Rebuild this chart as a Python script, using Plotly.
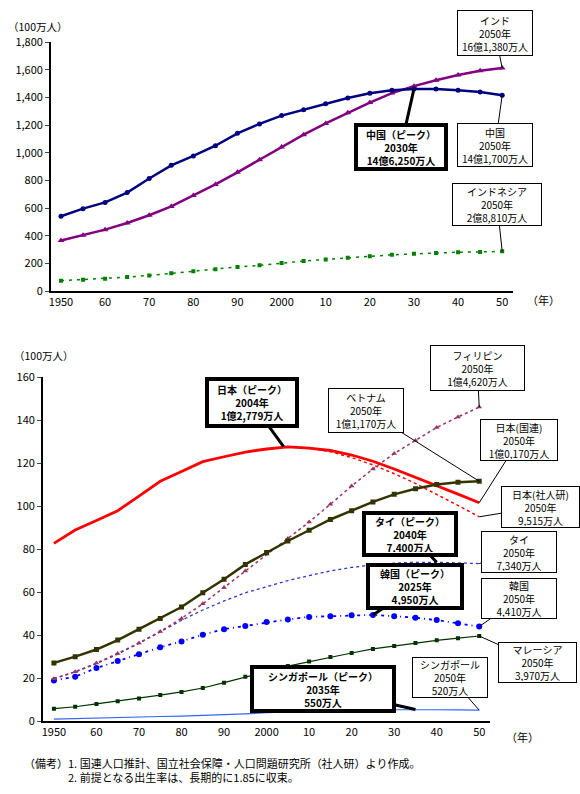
import plotly.graph_objects as go

# --- data -------------------------------------------------------------
years = list(range(1950, 2051, 5))

# top chart (100万人)
china = [542, 597, 642, 713, 815, 910, 978, 1052, 1142, 1210, 1270,
         1312, 1355, 1397, 1431, 1454, 1463, 1462, 1454, 1440, 1417]
india = [367, 405, 445, 493, 549, 613, 692, 772, 860, 950, 1042,
         1132, 1213, 1291, 1364, 1433, 1483, 1525, 1563, 1594, 1614]
indonesia = [76, 83, 90, 102, 114, 130, 144, 159, 175, 187, 204,
             218, 230, 242, 253, 263, 270, 277, 282, 284, 288]

# bottom chart (100万人)
japan_un = [82.8, 89.0, 93.4, 98.0, 104.8, 111.7, 116.2, 120.8, 123.1, 125.3, 126.7,
            127.7, 127.1, 126.0, 123.9, 121.0, 117.4, 113.6, 109.7, 105.7, 101.7]
ipss_years = list(range(2005, 2051, 5))
japan_ipss = [127.77, 127.18, 125.43, 122.73, 119.27, 115.22, 110.68, 105.70, 100.44, 95.15]
vietnam = [27.2, 30.1, 33.4, 37.8, 42.9, 47.9, 53.2, 59.8, 66.1, 73.0, 78.6,
           83.9, 88.9, 93.9, 98.0, 102.1, 105.6, 108.2, 110.2, 111.2, 111.7]
philippines = [19.8, 23.1, 27.1, 31.6, 36.5, 41.8, 47.9, 54.7, 62.3, 69.9, 77.8,
               85.1, 92.7, 101.0, 109.5, 117.4, 124.6, 130.7, 136.7, 141.6, 146.2]
thailand = [20.0, 23.0, 26.8, 31.3, 36.3, 41.6, 47.0, 51.8, 56.0, 59.8, 62.8,
            65.5, 67.8, 70.0, 71.6, 72.8, 73.6, 74.0, 74.0, 73.8, 73.4]
korea = [19.0, 20.8, 24.8, 28.1, 31.2, 34.5, 37.2, 40.3, 42.9, 44.4, 46.2,
         47.4, 48.6, 48.9, 49.4, 49.5, 48.9, 48.2, 47.1, 45.6, 44.1]
malaysia = [5.9, 6.8, 8.1, 9.4, 10.6, 12.2, 13.7, 15.5, 18.0, 20.7, 23.1,
            25.7, 27.8, 29.9, 31.8, 33.7, 35.1, 36.5, 37.7, 38.7, 39.7]
singapore = [1.0, 1.3, 1.6, 1.9, 2.07, 2.26, 2.41, 2.7, 3.0, 3.5, 4.0,
             4.3, 4.6, 4.9, 5.1, 5.3, 5.4, 5.5, 5.4, 5.3, 5.2]

tick_vals = list(range(1950, 2051, 10))
tick_text = ["1950", "60", "70", "80", "90", "2000", "10", "20", "30", "40", "50"]

FONT = "Noto Sans CJK JP"
W, H = 580, 794


def px_x(p):
    return p / W


def px_y(p):
    return 1 - p / H


fig = go.Figure()


def line(x, y, color, width, dash="solid", symbol=None, msize=5, axes=("x", "y")):
    fig.add_trace(go.Scatter(
        x=x, y=y, xaxis=axes[0], yaxis=axes[1],
        mode="lines+markers" if symbol else "lines",
        line=dict(color=color, width=width, dash=dash),
        marker=dict(symbol=symbol or "circle", size=msize, color=color),
        showlegend=False, hoverinfo="skip",
    ))


# top
line(years, indonesia, "#008000", 1.5, "3px,5px", "square", 4)
line(years, india, "#800080", 2.5, "solid", "triangle-up", 6)
line(years, china, "#000080", 2.5, "solid", "circle", 5)

# bottom
b = ("x2", "y2")
line(years, singapore, "#3366FF", 1.2, axes=b)
line(years, malaysia, "#003300", 1.2, "solid", "square", 4, axes=b)
line(years, korea, "#0000FF", 1.8, "3px,4px,1px,4px", "circle", 6, axes=b)
line(years, thailand, "#3333CC", 1.3, "dot", axes=b)
line(years, philippines, "#993366", 1.5, "dot", "triangle-up", 5, axes=b)
line(ipss_years, japan_ipss, "#FF0000", 1.5, "dot", axes=b)
line(years, japan_un, "#FF0000", 2.8, axes=b)
line(years, vietnam, "#333300", 2.5, "solid", "square", 5, axes=b)

axis_common = dict(showgrid=False, zeroline=False, showline=True, linecolor="black",
                   linewidth=1.5, tickfont=dict(family=FONT, size=11, color="black"))

fig.update_layout(
    width=W, height=H, margin=dict(l=0, r=0, t=0, b=0),
    paper_bgcolor="white", plot_bgcolor="white",
    font=dict(family=FONT, color="black"),
    xaxis=dict(domain=[px_x(49), px_x(513)], range=[1947.7, 2052.5], anchor="y",
               tickvals=tick_vals, ticktext=tick_text, ticks="", **axis_common),
    yaxis=dict(domain=[px_y(288), px_y(34)], range=[0, 1800], anchor="x",
               tickvals=list(range(0, 1801, 200)), tickformat=",", ticks="outside",
               ticklen=4, **axis_common),
    xaxis2=dict(domain=[px_x(41), px_x(490)], range=[1947.4, 2052.6], anchor="y2",
                tickvals=tick_vals, ticktext=tick_text, ticks="", **axis_common),
    yaxis2=dict(domain=[px_y(727), px_y(376)], range=[0, 160], anchor="x2",
                tickvals=list(range(0, 161, 20)), ticks="outside", ticklen=4,
                **axis_common),
)


def callout(xref, yref, x, y, text, ax, ay, w, h, bold=False):
    fig.add_annotation(
        xref=xref, yref=yref, x=x, y=y, ax=ax, ay=ay,
        text=f"<b>{text}</b>" if bold else text,
        showarrow=True, arrowhead=0, arrowwidth=3 if bold else 1, arrowcolor="black",
        bordercolor="black", borderwidth=4 if bold else 1, borderpad=1,
        bgcolor="white", width=w, height=h, align="center",
        font=dict(family=FONT, size=10, color="black"),
    )


# top chart callouts
callout("x", "y", 2050, india[-1], "インド<br>2050年<br>16億1,380万人", -7, -35, 72, 42)
callout("x", "y", 2050, china[-1], "中国<br>2050年<br>14億1,700万人", -7, 50, 72, 40)
callout("x", "y", 2030, china[16], "中国（ピーク）<br>2030年<br>14億6,250万人", -13, 58, 84, 38, True)
callout("x", "y", 2050, indonesia[-1], "インドネシア<br>2050年<br>2億8,810万人", -5, -47, 86, 39)

# bottom chart callouts
callout("x2", "y2", 2004, 127.79, "日本（ピーク）<br>2004年<br>1億2,779万人", -32, -44, 84, 41, True)
callout("x2", "y2", 2050, philippines[-1], "フィリピン<br>2050年<br>1億4,620万人", -2, -39, 91, 42)
callout("x2", "y2", 2050, vietnam[-1], "ベトナム<br>2050年<br>1億1,170万人", -113, -71, 72, 41)
callout("x2", "y2", 2050, japan_un[-1], "日本(国連)<br>2050年<br>1億0,170万人", 40, -63, 74, 38)
callout("x2", "y2", 2050, japan_ipss[-1], "日本(社人研)<br>2050年<br>9,515万人", 61, -10, 75, 38)
callout("x2", "y2", 2040, 74.0, "タイ（ピーク）<br>2040年<br>7,400万人", -27, -28, 86, 36, True)
callout("x2", "y2", 2050, thailand[-1], "タイ<br>2050年<br>7,340万人", 40, -12, 72, 38)
callout("x2", "y2", 2025, korea[15], "韓国（ピーク）<br>2025年<br>4,950万人", 42, -28, 88, 37, True)
callout("x2", "y2", 2050, korea[-1], "韓国<br>2050年<br>4,410万人", 40, -28, 72, 37)
callout("x2", "y2", 2050, malaysia[-1], "マレーシア<br>2050年<br>3,970万人", 58, 26, 75, 37)
callout("x2", "y2", 2035, singapore[17], "シンガポール（ピーク）<br>2035年<br>550万人", -92, -21, 136, 38, True)
callout("x2", "y2", 2050, singapore[-1], "シンガポール<br>2050年<br>520万人", -29, -33, 72, 37)


def label(x, y, text, size=11, anchor="center"):
    fig.add_annotation(xref="paper", yref="paper", x=px_x(x), y=px_y(y), text=text,
                       showarrow=False, xanchor=anchor, yanchor="middle",
                       font=dict(family=FONT, size=size, color="black"))


label(36, 18, "（100万人）", 10.5)
label(543, 297, "（年）")
label(42, 354, "（100万人）", 10.5)
label(522, 743, "（年）")
label(20, 770, "（備考）1. 国連人口推計、国立社会保障・人口問題研究所（社人研）より作成。", 11, "left")
label(64, 784, "2. 前提となる出生率は、長期的に1.85に収束。", 11, "left")

# the page's default 8px body margin would push the figure off its intended pixels
fig.write_html("out.html", config={"displayModeBar": False},
               post_script="document.body.style.margin='0';")
